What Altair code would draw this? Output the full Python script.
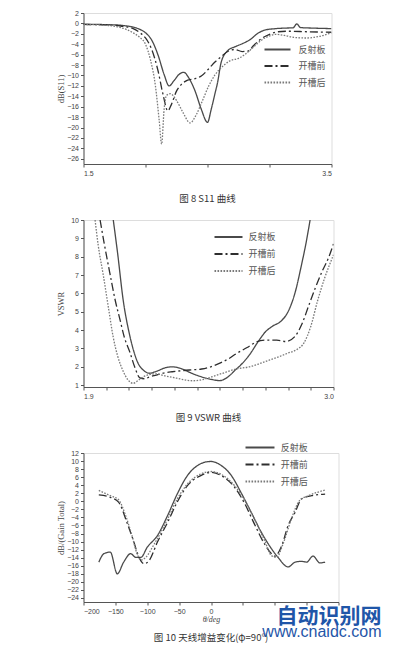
import altair as alt
import pandas as pd

SERIES = ["反射板", "开槽前", "开槽后"]
CJK = "Noto Sans CJK SC"
SERIF = "Liberation Serif"
SANS = "Liberation Sans"

# ---------- Fig 8: S11 ----------
s11_ref_f = [1.5, 1.6, 1.7, 1.8, 1.85, 1.9, 1.95, 2.0, 2.05, 2.1, 2.15, 2.19, 2.23, 2.27, 2.31, 2.35,
             2.4, 2.45, 2.5, 2.53, 2.56, 2.58, 2.61, 2.66, 2.73, 2.78, 2.85, 2.9, 2.96, 3.05, 3.12,
             3.19, 3.22, 3.25, 3.35, 3.5]
s11_ref_v = [-0.2, -0.2, -0.25, -0.35, -0.5, -0.7, -1.1, -1.8, -3.2, -6.0, -9.8, -12.0, -11.0, -9.8,
             -9.4, -10.5, -13.0, -16.5, -19.0, -16.5, -13.5, -11.5, -7.5, -5.3, -4.4, -3.9, -3.0,
             -2.0, -1.3, -1.0, -0.9, -0.85, -0.1, -0.8, -0.9, -1.0]
s11_pre_f = [1.5, 1.7, 1.8, 1.9, 1.95, 2.0, 2.05, 2.1, 2.14, 2.18, 2.21, 2.25, 2.29, 2.34, 2.4, 2.45,
             2.51, 2.56, 2.6, 2.67, 2.72, 2.78, 2.83, 2.87, 2.93, 3.0, 3.07, 3.15, 3.3, 3.5]
s11_pre_v = [-0.2, -0.3, -0.5, -1.0, -1.7, -2.8, -5.0, -9.0, -13.5, -16.8, -15.5, -13.0, -11.7, -10.9,
             -10.6, -10.1, -8.7, -7.4, -6.6, -5.3, -5.0, -5.4, -5.3, -4.3, -3.0, -2.1, -1.6, -1.5,
             -1.6, -1.7]
s11_post_f = [1.5, 1.7, 1.8, 1.85, 1.9, 1.95, 2.0, 2.04, 2.08, 2.11, 2.13, 2.15, 2.17, 2.2, 2.25, 2.3,
              2.36, 2.41, 2.46, 2.51, 2.56, 2.62, 2.68, 2.75, 2.8, 2.86, 2.93, 3.0, 3.05, 3.12, 3.2,
              3.3, 3.4, 3.5]
s11_post_v = [-0.2, -0.4, -0.8, -1.2, -1.8, -2.6, -4.0, -7.0, -12.0, -18.5, -23.2, -16.5, -13.8, -13.5,
              -14.8, -17.0, -19.1, -17.5, -14.8, -12.0, -9.9, -8.3, -7.2, -6.7, -6.0, -4.8, -3.3,
              -2.4, -2.1, -2.3, -2.7, -2.8, -2.5, -1.8]
s11_ticks = [-26, -24, -22, -20, -18, -16, -14, -12, -10, -8, -6, -4, -2, 0, 2]
s11_xticks = [1.5, 2.0, 2.5, 3.0, 3.5]

# ---------- Fig 9: VSWR ----------
vswr_ref_f = [2.031, 2.05, 2.075, 2.1, 2.12, 2.14, 2.165, 2.19, 2.22, 2.26, 2.29, 2.33, 2.37, 2.42,
              2.46, 2.5, 2.53, 2.57, 2.6, 2.63, 2.67, 2.7, 2.73, 2.77, 2.8, 2.83, 2.86, 2.88, 2.897]
vswr_ref_v = [10, 8.2, 5.6, 3.9, 2.9, 2.2, 1.8, 1.65, 1.75, 1.95, 2.0, 1.9, 1.68, 1.45, 1.32, 1.25,
              1.4, 1.85, 2.2, 2.65, 3.4, 3.9, 4.2, 4.5, 5.0, 6.0, 7.6, 8.8, 10]
vswr_pre_f = [1.973, 1.99, 2.016, 2.04, 2.06, 2.08, 2.104, 2.125, 2.148, 2.17, 2.19, 2.22, 2.25, 2.29,
              2.34, 2.38, 2.42, 2.46, 2.5, 2.54, 2.57, 2.62, 2.66, 2.7, 2.75, 2.79, 2.83, 2.86, 2.89,
              2.92, 2.95, 2.98, 3.0]
vswr_pre_v = [10, 8.8, 7.1, 5.6, 4.6, 3.6, 2.8, 2.0, 1.4, 1.35, 1.45, 1.55, 1.65, 1.73, 1.8, 1.84,
              1.88, 2.0, 2.2, 2.45, 2.7, 3.05, 3.35, 3.45, 3.45, 3.38, 3.65, 4.3, 5.3, 6.3, 7.2, 8.0, 8.7]
vswr_post_f = [1.951, 1.965, 1.987, 2.01, 2.031, 2.05, 2.075, 2.095, 2.118, 2.14, 2.162, 2.19, 2.22,
               2.26, 2.31, 2.35, 2.38, 2.43, 2.48, 2.53, 2.57, 2.63, 2.67, 2.72, 2.76, 2.8, 2.84,
               2.87, 2.9, 2.93, 2.96, 3.0]
vswr_post_v = [10, 8.6, 7.0, 5.2, 3.6, 2.6, 1.75, 1.3, 1.1, 1.25, 1.45, 1.58, 1.62, 1.5, 1.38, 1.28,
               1.24, 1.32, 1.52, 1.72, 1.88, 2.0, 2.15, 2.38, 2.55, 2.75, 2.95, 3.3, 4.2, 5.6, 6.8, 8.1]
vswr_ticks = [1, 2, 3, 4, 5, 6, 7, 8, 9, 10]
vswr_xticks = [1.9, 2.0, 2.1, 2.2, 2.3, 2.4, 2.5, 2.6, 2.7, 2.8, 2.9, 3.0]

# ---------- Fig 10: Gain ----------
gain_ref_t = [-176, -168, -158, -147, -137, -126, -118, -110, -100, -84, -68, -53, -37, -21, -10, 0,
              16, 32, 47, 63, 79, 95, 105, 121, 132, 142, 150, 160, 171, 179]
gain_ref_v = [-15.1, -13.0, -12.6, -18.0, -15.1, -13.0, -13.9, -13.9, -11.4, -8.5, -3.5, 1.8, 6.4, 8.9,
              9.7, 9.9, 8.9, 6.4, 2.2, -2.7, -7.7, -11.8, -13.9, -16.3, -15.1, -14.9, -15.1, -13.6,
              -15.3, -15.1]
gain_pre_t = [-176, -158, -145, -132, -121, -113, -105, -97, -84, -68, -53, -37, -16, 0, 16, 37, 53,
              68, 84, 95, 100, 111, 121, 132, 142, 158, 179]
gain_pre_v = [1.6, 1.0, -0.2, -5.2, -10.1, -13.9, -15.5, -14.7, -10.1, -5.2, -0.2, 3.9, 6.4, 7.2, 6.4,
              3.5, -0.6, -5.6, -10.6, -13.0, -13.6, -11.0, -6.0, -2.7, 0.6, 1.4, 1.8]
gain_post_t = [-176, -158, -145, -134, -124, -116, -110, -103, -89, -68, -53, -37, -16, 0, 16, 37, 53,
               68, 84, 95, 103, 113, 126, 139, 153, 179]
gain_post_v = [2.7, 1.4, 0.4, -3.5, -8.5, -13.0, -14.6, -14.0, -10.6, -4.4, 0.6, 4.3, 6.8, 7.4, 6.7,
               3.9, 0.2, -4.4, -9.7, -13.5, -13.9, -10.6, -4.4, 0.2, 1.4, 2.8]
gain_ticks = list(range(-24, 13, 2))
gain_xticks = [-200, -150, -100, -50, 0, 50, 100, 150, 200]


def long_df(pairs):
    rows = []
    for name, (xs, ys) in zip(SERIES, pairs):
        for a, b in zip(xs, ys):
            rows.append({"x": a, "y": b, "series": name})
    return pd.DataFrame(rows)


def legend(lx, ly, size, lo, rp, pad=0):
    return alt.Legend(title=None, orient="none", legendX=lx, legendY=ly,
                      symbolType="M-2,0H2", symbolSize=size, symbolStrokeWidth=1.8,
                      labelOffset=lo, rowPadding=rp, labelFont=CJK, labelFontSize=9,
                      labelColor="#555", padding=pad)


def yaxis(vals, title):
    return alt.Axis(values=vals, title=title, grid=False, tickSize=3, labelFontSize=7,
                    labelFont=SANS, labelColor="#444", domainColor="#555", tickColor="#555",
                    minExtent=16, maxExtent=16, titlePadding=2, titleFont=SERIF,
                    titleFontSize=8.5, titleFontWeight="normal", titleColor="#444")


def panel(df, xdom, ydom, xaxis, yax, lg, w, h, caption, cap_off):
    color = alt.Color("series:N", scale=alt.Scale(domain=SERIES, range=["#4a4a4a", "#2e2e2e", "#7a7a7a"]),
                      legend=lg)
    dash = alt.StrokeDash("series:N", scale=alt.Scale(domain=SERIES, range=[[1, 0], [8, 3, 2, 3], [1.6, 1.4]]),
                          legend=lg)
    return alt.Chart(df).mark_line(strokeWidth=1.3, interpolate="monotone", clip=True).encode(
        x=alt.X("x:Q", scale=alt.Scale(domain=xdom, nice=False, zero=False), axis=xaxis),
        y=alt.Y("y:Q", scale=alt.Scale(domain=ydom, nice=False, zero=False), axis=yax),
        color=color, strokeDash=dash,
    ).properties(
        width=w, height=h,
        title=alt.TitleParams(text=caption, orient="bottom", anchor="middle", frame="group",
                              offset=cap_off, font=CJK, fontSize=9.5, fontWeight="normal",
                              color="#333"),
    )


xcommon = dict(grid=False, tickSize=3, labelFontSize=7, labelFont=SANS, labelColor="#444",
               domainColor="#555", tickColor="#555", labelPadding=2)

c1 = panel(
    long_df([(s11_ref_f, s11_ref_v), (s11_pre_f, s11_pre_v), (s11_post_f, s11_post_v)]),
    [1.5, 3.5], [-27, 2],
    alt.Axis(values=s11_xticks, title=None,
             labelExpr="datum.value <= 1.5 || datum.value >= 3.5 ? format(datum.value, '.1f') : ''",
             **xcommon),
    yaxis(s11_ticks, "dB(S11)"),
    legend(186.5, 29, 169, 13.5, 3.5),
    248, 151, "图 8  S11 曲线", 18,
)

c2 = panel(
    long_df([(vswr_ref_f, vswr_ref_v), (vswr_pre_f, vswr_pre_v), (vswr_post_f, vswr_post_v)]),
    [1.9, 3.0], [0.9, 10],
    alt.Axis(values=vswr_xticks, title=None,
             labelExpr="datum.value <= 1.9 || datum.value >= 3.0 ? format(datum.value, '.1f') : ''",
             **xcommon),
    yaxis(vswr_ticks, "VSWR"),
    legend(137, 9, 196, 12, 4),
    250, 167, "图 9  VSWR 曲线", 14,
)

c3 = panel(
    long_df([(gain_ref_t, gain_ref_v), (gain_pre_t, gain_pre_v), (gain_post_t, gain_post_v)]),
    [-200, 200], [-25, 12],
    alt.Axis(values=gain_xticks, title="θ/deg", labelExpr="datum.value <= 0 ? datum.label : ''",
             titleFont=SERIF, titleFontSize=8, titleFontStyle="italic", titleFontWeight="normal",
             titleColor="#444", titlePadding=1, **xcommon),
    yaxis(gain_ticks, "dB/(Gain Total)"),
    legend(164, -18, 210, 12.25, 3, pad=4),
    255, 149, "图 10  天线增益变化(φ=90°)", 10,
)

chart = alt.vconcat(c1, c2, c3, spacing=11).resolve_scale(
    color="independent", strokeDash="independent"
).resolve_legend(color="independent", strokeDash="independent").properties(
    padding={"left": 47.5, "top": 0, "right": 0, "bottom": 0},
    title=alt.TitleParams(text="自动识别网", subtitle="www.cnaidc.com", orient="bottom", anchor="end",
                          offset=-37, font=CJK, fontSize=21, fontWeight="bold", color="#1f56a8",
                          subtitleFont=SANS, subtitleFontSize=16, subtitleColor="#1f56a8",
                          subtitlePadding=-3, dx=42),
).configure_view(stroke=None).configure(background="white")

chart.save("out.html", embed_options={"renderer": "svg", "actions": False})
